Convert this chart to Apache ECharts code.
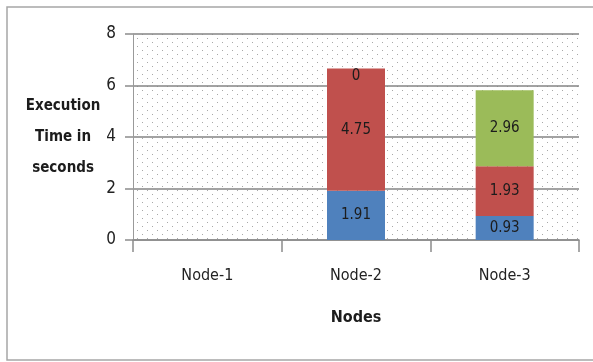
<!DOCTYPE html>
<html>
<head>
<meta charset="utf-8">
<script src="https://cdn.jsdelivr.net/npm/echarts@6/dist/echarts.min.js"></script>
<style>
html,body{margin:0;padding:0;background:#fff;}
#chart{width:593px;height:362px;}
</style>
</head>
<body>
<div id="chart"></div>
<script>
var categories = ['Node-1', 'Node-2', 'Node-3'];
var blueValues = ['-', 1.91, 0.93];
var redValues = ['-', 4.75, 1.93];
var greenValues = ['-', 0, 2.96];
var yTicks = [0, 2, 4, 6, 8];

var FONT = '"DejaVu Sans Condensed", "Liberation Sans", sans-serif';

// dotted plot background pattern
var pat = document.createElement('canvas');
pat.width = 10; pat.height = 8;
var pctx = pat.getContext('2d');
pctx.fillStyle = '#ffffff';
pctx.fillRect(0, 0, 10, 8);
pctx.fillStyle = '#a8a8a8';
pctx.fillRect(2, 2, 1, 1);
pctx.fillRect(7, 6, 1, 1);

var chart = echarts.init(document.getElementById('chart'), null, {renderer: 'canvas'});

function labelCfg() {
  return {
    show: true,
    position: 'inside',
    color: '#1c1c1c',
    fontSize: 15,
    fontFamily: FONT
  };
}

var greenData = greenValues.map(function (v) {
  if (v === 0) {
    return {value: v, label: {position: 'insideTop', distance: 0}};
  }
  return v;
});

chart.setOption({
  animation: false,
  backgroundColor: '#ffffff',
  textStyle: {fontFamily: FONT},
  graphic: [{
    type: 'rect',
    shape: {x: 7, y: 7, width: 620, height: 353},
    style: {fill: 'none', stroke: '#a6a6a6', lineWidth: 1.5},
    silent: true,
    z: -1
  }],
  grid: {
    left: 133, right: 14, top: 34, bottom: 122,
    show: true,
    borderWidth: 0,
    backgroundColor: {image: pat, repeat: 'repeat'}
  },
  xAxis: {
    type: 'category',
    data: categories,
    name: 'Nodes',
    nameLocation: 'middle',
    nameGap: 70,
    nameTextStyle: {fontSize: 16, fontWeight: 'bold', color: '#1c1c1c', fontFamily: FONT},
    axisLine: {show: true, lineStyle: {color: '#8c8c8c', width: 1.5}},
    axisTick: {show: true, length: 12, lineStyle: {color: '#8c8c8c', width: 1.5}},
    axisLabel: {fontSize: 16, margin: 28, color: '#222222', fontFamily: FONT}
  },
  yAxis: {
    type: 'value',
    min: yTicks[0],
    max: yTicks[yTicks.length - 1],
    interval: yTicks[1] - yTicks[0],
    name: 'Execution\nTime in\nseconds',
    nameLocation: 'middle',
    nameRotate: 0,
    nameGap: 67,
    nameTextStyle: {fontSize: 15, fontWeight: 'bold', color: '#1c1c1c', align: 'center', lineHeight: 31, fontFamily: FONT},
    axisLine: {show: true, lineStyle: {color: '#9a9a9a', width: 1}},
    axisTick: {show: true, length: 8, lineStyle: {color: '#8c8c8c', width: 1.5}},
    axisLabel: {fontSize: 17, margin: 17, color: '#222222', fontFamily: FONT},
    splitLine: {show: true, lineStyle: {color: '#858585', width: 1.5}}
  },
  series: [
    {name: 'Blue', type: 'bar', stack: 'total', barWidth: 58, data: blueValues,
     itemStyle: {color: '#4f81bd'}, label: labelCfg()},
    {name: 'Red', type: 'bar', stack: 'total', barWidth: 58, data: redValues,
     itemStyle: {color: '#c0504d'}, label: labelCfg()},
    {name: 'Green', type: 'bar', stack: 'total', barWidth: 58, data: greenData,
     itemStyle: {color: '#9bbb59'}, label: labelCfg()}
  ]
});
</script>
</body>
</html>
